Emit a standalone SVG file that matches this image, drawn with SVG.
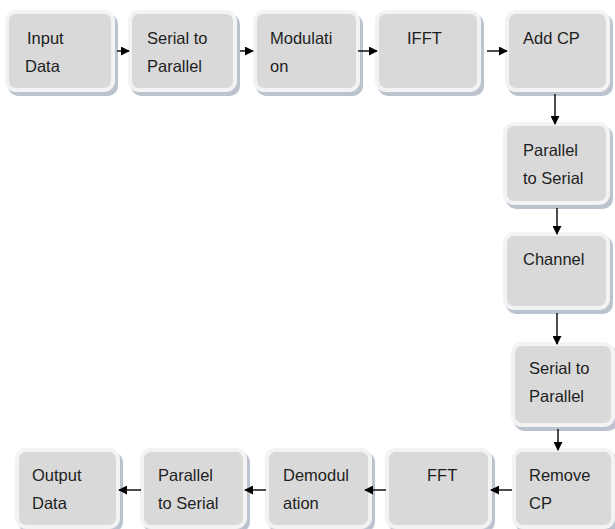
<svg xmlns="http://www.w3.org/2000/svg" width="615" height="529" viewBox="0 0 615 529">
<defs>
<style>
.sh{fill:#aab4c2;opacity:0.8}
.bx{fill:#d9d9d9;stroke:#f3f3f3;stroke-width:4}
.t{font-family:"Liberation Sans",Arial,sans-serif;font-size:16.5px;fill:#1e1e1e}
.c{stroke:#000;stroke-width:1.4;fill:none;marker-end:url(#ah)}
</style>
<marker id="ah" viewBox="0 0 10 10" refX="9" refY="5" markerWidth="9" markerHeight="9" markerUnits="userSpaceOnUse" orient="auto">
<path d="M0,0 L10,5 L0,10 z" fill="#000"/>
</marker>
</defs>
<rect width="615" height="529" fill="#fff"/>
<g id="n1"><rect class="sh" x="8" y="14" width="110" height="82" rx="10"/><rect class="bx" x="7" y="12" width="106" height="78" rx="9"/><text class="t" x="27" y="44">Input</text><text class="t" x="25" y="72">Data</text></g>
<g id="n2"><rect class="sh" x="131" y="14" width="109" height="82" rx="10"/><rect class="bx" x="130" y="12" width="105" height="78" rx="9"/><text class="t" x="147" y="44">Serial to</text><text class="t" x="147" y="72">Parallel</text></g>
<g id="n3"><rect class="sh" x="256" y="14" width="107" height="82" rx="10"/><rect class="bx" x="255" y="12" width="103" height="78" rx="9"/><text class="t" x="270" y="44">Modulati</text><text class="t" x="270" y="72">on</text></g>
<g id="n4"><rect class="sh" x="378" y="14" width="106" height="82" rx="10"/><rect class="bx" x="377" y="12" width="102" height="78" rx="9"/><text class="t" x="407" y="44">IFFT</text></g>
<g id="n5"><rect class="sh" x="508" y="14" width="105" height="82" rx="10"/><rect class="bx" x="507" y="12" width="101" height="78" rx="9"/><text class="t" x="523" y="44">Add CP</text></g>
<g id="n6"><rect class="sh" x="506" y="126" width="107" height="83" rx="10"/><rect class="bx" x="505" y="124" width="103" height="79" rx="9"/><text class="t" x="523" y="156">Parallel</text><text class="t" x="523" y="184">to Serial</text></g>
<g id="n7"><rect class="sh" x="506" y="236" width="107" height="78" rx="10"/><rect class="bx" x="505" y="234" width="103" height="74" rx="9"/><text class="t" x="523" y="265">Channel</text></g>
<g id="n8"><rect class="sh" x="514" y="346" width="104" height="85" rx="10"/><rect class="bx" x="513" y="344" width="100" height="81" rx="9"/><text class="t" x="529" y="374">Serial to</text><text class="t" x="529" y="402">Parallel</text></g>
<g id="n9"><rect class="sh" x="515" y="452" width="103" height="80" rx="10"/><rect class="bx" x="514" y="450" width="99" height="77" rx="9"/><text class="t" x="529" y="481">Remove</text><text class="t" x="529" y="509">CP</text></g>
<g id="n10"><rect class="sh" x="388" y="452" width="107" height="80" rx="10"/><rect class="bx" x="387" y="450" width="103" height="77" rx="9"/><text class="t" x="427" y="481">FFT</text></g>
<g id="n11"><rect class="sh" x="268" y="452" width="107" height="80" rx="10"/><rect class="bx" x="267" y="450" width="103" height="77" rx="9"/><text class="t" x="283" y="481">Demodul</text><text class="t" x="283" y="509">ation</text></g>
<g id="n12"><rect class="sh" x="143" y="452" width="107" height="80" rx="10"/><rect class="bx" x="142" y="450" width="103" height="77" rx="9"/><text class="t" x="158" y="481">Parallel</text><text class="t" x="158" y="509">to Serial</text></g>
<g id="n13"><rect class="sh" x="18" y="452" width="105" height="80" rx="10"/><rect class="bx" x="17" y="450" width="101" height="77" rx="9"/><text class="t" x="32" y="481">Output</text><text class="t" x="32" y="509">Data</text></g>
<g id="connectors">
<line class="c" x1="117" y1="51" x2="129" y2="51"/>
<line class="c" x1="240" y1="51" x2="253" y2="51"/>
<line class="c" x1="358" y1="51" x2="377" y2="51"/>
<line class="c" x1="487" y1="51" x2="507" y2="51"/>
<line class="c" x1="555" y1="94" x2="555" y2="124"/>
<line class="c" x1="557" y1="208" x2="557" y2="234"/>
<line class="c" x1="557" y1="313" x2="557" y2="344"/>
<line class="c" x1="558" y1="429" x2="558" y2="450"/>
<line class="c" x1="512" y1="490" x2="491" y2="490"/>
<line class="c" x1="386" y1="490" x2="365" y2="490"/>
<line class="c" x1="266" y1="490" x2="245" y2="490"/>
<line class="c" x1="141" y1="490" x2="119" y2="490"/>
</g>
</svg>
